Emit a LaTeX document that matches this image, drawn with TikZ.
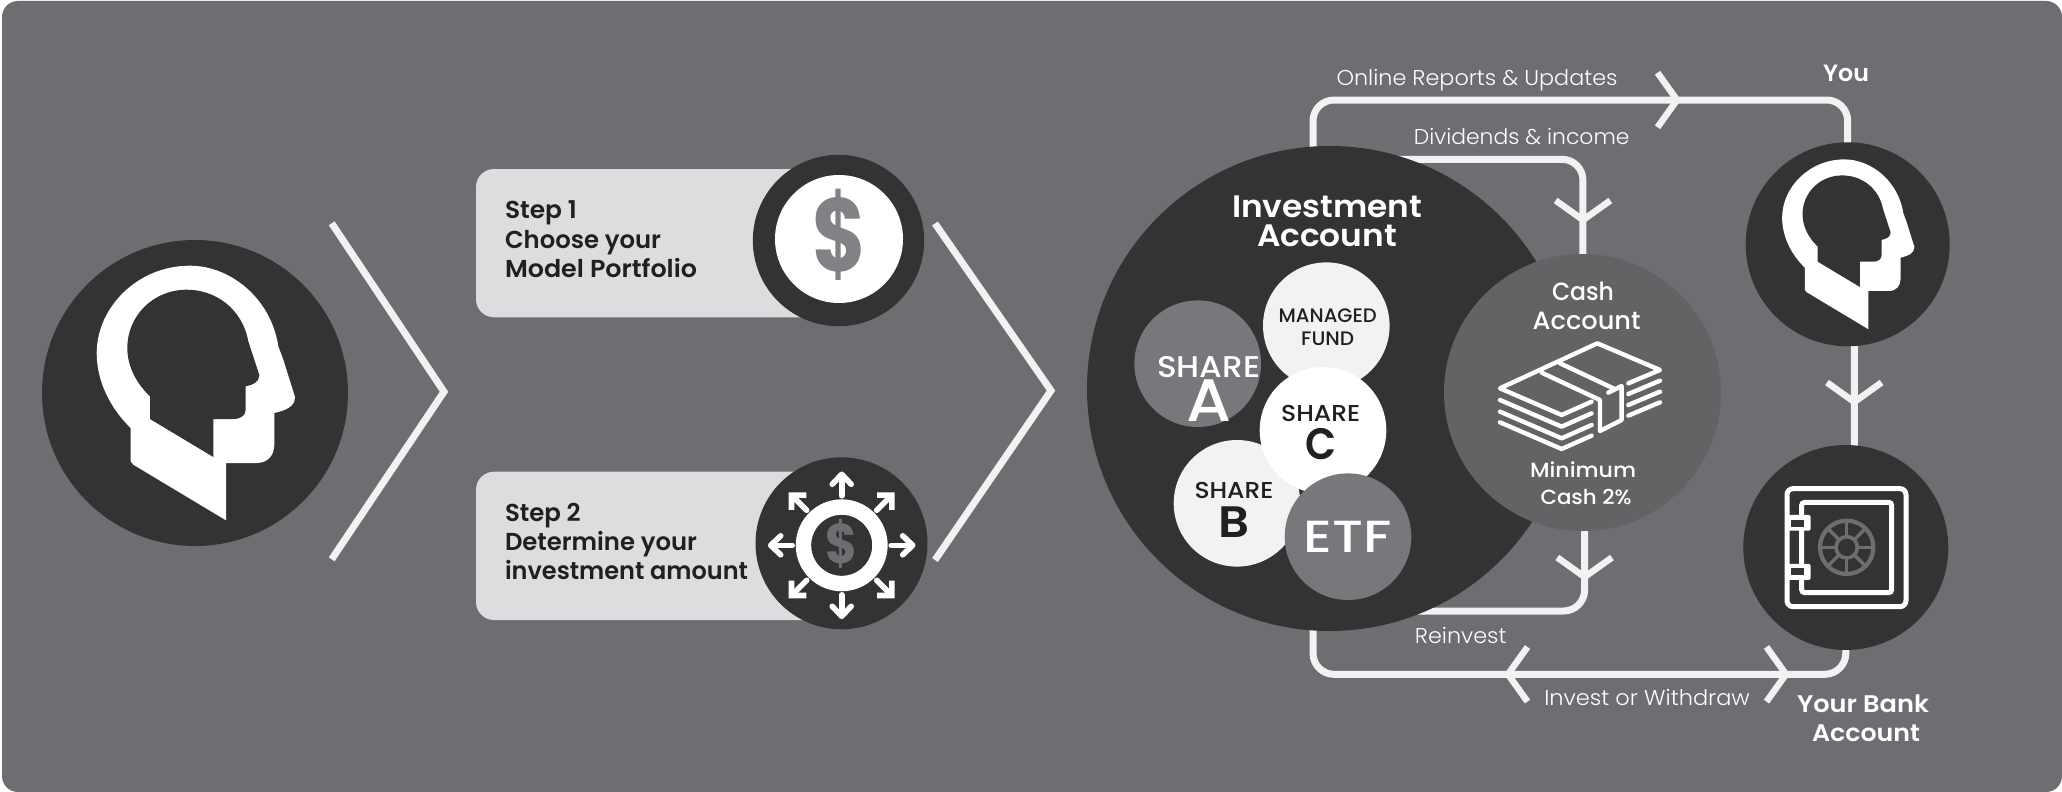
\documentclass[tikz,border=0pt]{standalone}
\usepackage{fontspec}
\usepackage{graphicx}
\setmainfont{Poppins}
\newfontfamily\med{Poppins Medium}
\newfontfamily\sem{Poppins SemiBold}
\newfontfamily\lit{Poppins Light}
\definecolor{bgc}{HTML}{6D6E71}
\definecolor{darkc}{HTML}{333334}
\definecolor{pale}{HTML}{F1F2F2}
\definecolor{boxc}{HTML}{DCDDDE}
\definecolor{midc}{HTML}{77787B}
\definecolor{cashc}{HTML}{626365}
\definecolor{inkc}{HTML}{231F20}
\definecolor{dollc}{HTML}{808285}
\usetikzlibrary{calc}
\pgfdeclarelayer{bgl}\pgfdeclarelayer{wires}
\pgfsetlayers{bgl,wires,main}
\newcommand\fw[3]{\resizebox{#1pt}{\height}{\fontsize{#2}{#2}\selectfont #3}}
\tikzset{
  disc/.style={circle,inner sep=0pt,outer sep=0pt,minimum size=#1},
  txt/.style={inner sep=0pt,outer sep=0pt,anchor=base},
  wire/.style={draw=pale,line width=7pt,rounded corners=21pt},
  chevline/.style={draw=pale,line width=7pt,miter limit=10,line cap=butt},
  stepbox/.style={fill=boxc,rounded corners=18pt},
  ico/.style={draw=white,line width=4.4pt,line cap=round,line join=round},
  headshape/.pic={
    \fill[white] (31,127.3) -- (31,70) -- (61.7,70)
      .. controls (73,70) and (79.3,62) .. (79.3,51.7) -- (79.3,20)
      .. controls (90,17.5) and (100,14) .. (100,4) -- (88.3,-33.3) -- (83.3,-46.7)
      .. controls (76,-95) and (35,-127.3) .. (-5,-127.3)
      .. controls (-58,-127.3) and (-98.3,-85) .. (-98.3,-40)
      .. controls (-98.3,-12) and (-85,15) .. (-64.3,35)
      -- (-64.3,68.3) -- (-61.7,71.7) -- cycle;
    \fill[darkc] (-45,3.3) -- (-45,26) -- (18.3,64) -- (18.3,26) -- (38.3,26)
      .. controls (46,26) and (50.7,22) .. (50.7,16.7) -- (50.7,-6.7)
      .. controls (58,-8) and (64.3,-11) .. (64.3,-18) -- (53.3,-51.7)
      .. controls (47,-85) and (20,-103.3) .. (-8.3,-103.3)
      .. controls (-42,-103.3) and (-67.7,-77) .. (-67.7,-45)
      .. controls (-67.7,-25) and (-57,-8) .. (-45,3.3) -- cycle;
  },
  chev/.pic={\draw[draw=pale,line width=6.5pt,miter limit=10] (-22.5,-27.3) -- (-3,0) -- (-22.5,27.3);},
  outarrow/.pic={
    \draw[draw=white,line width=5.6pt,line cap=round] (49.5,0) -- (70,0);
    \draw[draw=white,line width=5.6pt,line cap=round,line join=round] (61,-9.5) -- (71,0) -- (61,9.5);
  },
  diagarrow/.pic={
    \draw[draw=white,line width=5.6pt,line cap=round] (49.5,0) -- (70,0);
    \draw[draw=white,line width=5.6pt,line join=miter,miter limit=10,line cap=butt] (60.5,-10.5) -- (71,0) -- (60.5,10.5);
  }
}
\begin{document}
\begin{tikzpicture}[x=1pt,y=-1pt]
\useasboundingbox (0,0) rectangle (2062,792);
\begin{pgfonlayer}{bgl}
\fill[white] (0,0) rectangle (2062,792);
\fill[bgc,rounded corners=16pt] (2,1) rectangle (2062,792);
\end{pgfonlayer}

% main discs
\node[disc=306pt,fill=darkc] (person) at (195,393) {};
\pic at (person.center) {headshape};
\draw[chevline] (331.7,223.3) -- (444,391.7) -- (331.7,559.3);

\fill[stepbox] (476,169) rectangle (840,317.3);
\node[disc=171.4pt,fill=darkc] (s1) at (838.5,240.5) {};
\node[disc=128pt,fill=white] (s1in) at (839,239) {};
\node[txt,text=dollc] (s1d) at (839,271) {\resizebox{54pt}{\height}{\bfseries\fontsize{104}{104}\selectfont\$}};
\node[txt,anchor=base west,text=inkc] (s1a) at (505,218) {\fw{72}{24.5}{\sem Step 1}};
\node[txt,anchor=base west,text=inkc] (s1b) at (505,248) {\fw{156}{24.5}{\sem Choose your}};
\node[txt,anchor=base west,text=inkc] (s1c) at (505,277) {\fw{192}{24.5}{\sem Model Portfolio}};

\fill[stepbox] (476,471.7) rectangle (840,620);
\node[disc=172pt,fill=darkc] (s2) at (841.5,543.3) {};
\node[disc=76.5pt,draw=white,line width=15.4pt,fill=darkc] (s2in) at (841.7,545.3) {};
\node[txt,text=bgc] (s2d) at (841.7,563) {\resizebox{32pt}{\height}{\bfseries\fontsize{56}{56}\selectfont\$}};
\foreach \a in {0,90,180,270} \pic[rotate=\a] at (s2in.center) {outarrow};
\foreach \a in {45,135,225,315} \pic[rotate=\a] at (s2in.center) {diagarrow};
\node[txt,anchor=base west,text=inkc] (s2a) at (505,521.7) {\fw{75.7}{24.5}{\sem Step 2}};
\node[txt,anchor=base west,text=inkc] (s2b) at (505,550.7) {\fw{192}{24.5}{\sem Determine your}};
\node[txt,anchor=base west,text=inkc] (s2c) at (505,579.3) {\fw{243}{24.5}{\sem investment amount}};

\draw[chevline] (935,223.5) -- (1051,390.6) -- (935,560);

\node[disc=485pt,fill=darkc] (invest) at (1329.5,388.5) {};
\node[disc=277pt,fill=cashc] (cash) at (1582.5,392.5) {};
\node[disc=204pt,fill=darkc] (you) at (1847.7,244.3) {};
\pic[scale=0.667] at (you.center) {headshape};
\node[disc=205pt,fill=darkc] (bank) at (1845.8,547.5) {};

% connectors
\coordinate (topL) at ([xshift=-16.5pt]invest.center);
\coordinate (topM) at (1680,100);
\coordinate (divL) at ([xshift=20pt]invest.center);
\coordinate (divM) at (1583,223);
\coordinate (reiM) at (1584.6,580);
\coordinate (botM) at (1789,674.3);
\coordinate (botN) at (1505,674.3);
\coordinate (yb1) at ([xshift=6.5pt]you.center);
\coordinate (ybM) at (1854.3,405);
\coordinate (yb2) at ([xshift=8.5pt]bank.center);
\begin{pgfonlayer}{wires}
\draw[wire] (topL) |- (topM) -| (you.center);
\draw[wire] (divL) |- (1583,159.3) -- (cash.center);
\draw[wire] (cash.center) -- ++(2,0) -- (1584.6,611) -- (divL |- 0,611);
\draw[wire] (topL) |- (botM) -| (bank.center);
\draw[draw=pale,line width=7pt] (yb1) -- (yb2);
\end{pgfonlayer}
\pic at (topM) {chev};
\pic[rotate=-90] at (divM) {chev};
\pic[rotate=-90] at (reiM) {chev};
\pic at (botM) {chev};
\pic[rotate=180] at (botN) {chev};
\pic[rotate=-90] at (ybM) {chev};

% inner fund discs
\node[disc=126.6pt,fill=midc] (sa) at (1197.7,363.7) {};
\node[disc=126.6pt,fill=pale] (mf) at (1326.3,325.7) {};
\node[disc=126.6pt,fill=pale] (sb) at (1237,503.3) {};
\node[disc=126.6pt,fill=white] (sc) at (1323,430.3) {};
\node[disc=126.6pt,fill=midc] (etf) at (1348,536.7) {};

\node[txt,text=white] (i1) at (1327,217) {\fw{190}{31}{\sem Investment}};
\node[txt,text=white] (i2) at (1327,246) {\fw{140}{31}{\sem Account}};

\node[txt,text=white] (saa) at (1208.7,377.3) {\fw{103}{30}{\med SHARE}};
\node[txt,text=white] (sab) at (1209,421.7) {\fw{45}{60}{\med A}};
\node[txt,text=inkc] (mfa) at (1327.7,322) {\fw{98}{19.5}{\med MANAGED}};
\node[txt,text=inkc] (mfb) at (1327.7,345) {\fw{53}{19.5}{\med FUND}};
\node[txt,text=inkc] (sca) at (1320.7,421.7) {\fw{79}{23}{\med SHARE}};
\node[txt,text=inkc] (scb) at (1320.7,459.3) {\fw{31}{44}{\sem C}};
\node[txt,text=inkc] (sba) at (1234,498.3) {\fw{79}{23}{\med SHARE}};
\node[txt,text=inkc] (sbb) at (1234,537.3) {\fw{31}{44}{\sem B}};
\node[txt,text=white] (etft) at (1347.3,552.3) {\fw{88}{45}{\med ETF}};

% cash
\node[txt,text=white] (ca) at (1583,300) {\fw{62}{25}{\med Cash}};
\node[txt,text=white] (cb) at (1586.7,329.3) {\fw{108}{25}{\med Account}};
\node[txt,text=white] (cc) at (1583,477.7) {\fw{106}{20.5}{\med Minimum}};
\node[txt,text=white] (cd) at (1586,504) {\fw{91}{20.5}{\med Cash 2\%}};
\begin{scope}[shift={(1440,250)},x=0.3333pt,y=-0.3333pt]
\draw[ico] (565,400) -- (660,360) -- (472,280) -- (180,415) -- (365,495) -- (455,455);
\draw[ico] (360,340) -- (520,415);
\draw[ico] (305,368) -- (480,450) -- (480,543) -- (545,510) -- (545,408) -- (505,428);
\foreach \d in {35,70,102} \draw[ico] (180,415+\d) -- (365,495+\d) -- (455,455+\d);
\foreach \d in {32,65,97} \draw[ico] (565,400+\d) -- (660,360+\d);
\end{scope}

% safe
\begin{scope}[shift={(1720,430)},x=0.3333pt,y=-0.3333pt]
\draw[draw=white,line width=5pt,rounded corners=6pt] (201,176) rectangle (558,530);
\draw[draw=white,line width=5pt,rounded corners=3pt] (245,217) rectangle (515,488);
\fill[white,rounded corners=2pt] (205,255) rectangle (272,302);
\fill[white,rounded corners=2pt] (205,402) rectangle (272,450);
\fill[darkc] (212,270) rectangle (253,290);
\fill[darkc] (212,415) rectangle (253,435);
\draw[bgc,line width=4.2pt] (380,352) circle (80);
\draw[bgc,line width=3.6pt] (380,352) circle (32);
\foreach \a in {0,45,...,315} \draw[bgc,line width=3.4pt] (380,352) ++(\a:32) -- ++(\a:48);
\end{scope}

% labels
\node[txt,text=white] (l1) at (1477,85) {\fw{281}{21.5}{\lit Online Reports \& Updates}};
\node[txt,text=white] (l2) at (1521.7,144) {\fw{215.5}{21.5}{\lit Dividends \& income}};
\node[txt,text=white] (l3) at (1846,81.7) {\fw{46}{23.5}{\sem You}};
\node[txt,text=white] (l4) at (1460.7,643) {\fw{91.5}{21.5}{\lit Reinvest}};
\node[txt,text=white] (l5) at (1647,705.7) {\fw{205.5}{21.5}{\lit Invest or Withdraw}};
\node[txt,text=white] (l6) at (1863,712) {\fw{132}{24}{\sem Your Bank}};
\node[txt,text=white] (l7) at (1866,741.7) {\fw{108}{24}{\sem Account}};
\end{tikzpicture}
\end{document}
